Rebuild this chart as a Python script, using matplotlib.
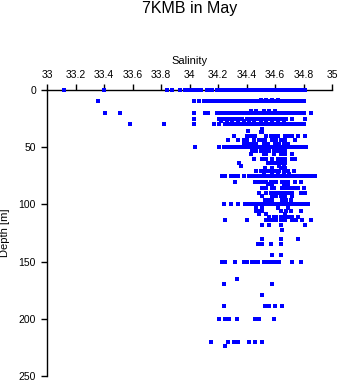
import matplotlib
matplotlib.use('Agg')
import matplotlib.pyplot as plt

plt.rcParams['font.family'] = ['Liberation Sans', 'DejaVu Sans']

# Salinity readings along the densely sampled depth levels
sal_0m = [33.12, 33.40, 33.84, 33.88, 33.93, 33.97, 33.99, 34.01, 34.03, 34.06, 34.08,
          34.12, 34.14, 34.16, 34.19, 34.21, 34.23, 34.25, 34.27, 34.29, 34.31, 34.33,
          34.35, 34.37, 34.39, 34.41, 34.43, 34.45, 34.47, 34.49, 34.51, 34.53, 34.55,
          34.57, 34.59, 34.61, 34.63, 34.65, 34.67, 34.69, 34.71, 34.73, 34.75, 34.77,
          34.79, 34.81]
sal_10m = [33.36, 34.03, 34.07, 34.10, 34.12, 34.15, 34.17, 34.19, 34.21, 34.23, 34.25,
           34.27, 34.29, 34.31, 34.33, 34.35, 34.37, 34.39, 34.41, 34.43, 34.45, 34.47,
           34.49, 34.51, 34.53, 34.55, 34.57, 34.59, 34.61, 34.63, 34.65, 34.67, 34.69,
           34.71, 34.73, 34.75, 34.77, 34.79, 34.80]
sal_20m = [33.41, 33.51, 34.03, 34.11, 34.13, 34.19, 34.21, 34.23, 34.25, 34.27, 34.29,
           34.31, 34.33, 34.35, 34.37, 34.39, 34.41, 34.43, 34.45, 34.47, 34.49, 34.51,
           34.53, 34.55, 34.57, 34.59, 34.61, 34.63, 34.65, 34.67, 34.69, 34.71, 34.73,
           34.75, 34.77, 34.79, 34.80, 34.85]
sal_25m = [34.03, 34.21, 34.23, 34.25, 34.27, 34.29, 34.32, 34.35, 34.37, 34.40, 34.42,
           34.44, 34.46, 34.48, 34.50, 34.52, 34.54, 34.56, 34.58, 34.60, 34.62, 34.64,
           34.66, 34.68, 34.72, 34.81]
sal_30m = [33.58, 33.82, 34.03, 34.17, 34.21, 34.25, 34.27, 34.29, 34.31, 34.33, 34.35,
           34.37, 34.39, 34.41, 34.43, 34.45, 34.47, 34.49, 34.51, 34.53, 34.55, 34.57,
           34.59, 34.61, 34.63, 34.65, 34.67, 34.69, 34.71, 34.73, 34.75, 34.77, 34.79,
           34.80]
sal_50m = [34.04, 34.21, 34.24, 34.26, 34.28, 34.30, 34.32, 34.34, 34.36, 34.38, 34.40,
           34.42, 34.44, 34.46, 34.48, 34.50, 34.52, 34.54, 34.56, 34.58, 34.60, 34.62,
           34.64, 34.66, 34.68, 34.70, 34.72, 34.74, 34.76, 34.78, 34.80, 34.82]
sal_75m = [34.23, 34.25, 34.29, 34.31, 34.34, 34.38, 34.42, 34.44, 34.46, 34.48, 34.50,
           34.52, 34.54, 34.56, 34.58, 34.60, 34.62, 34.64, 34.66, 34.68, 34.70, 34.72,
           34.74, 34.76, 34.78, 34.80, 34.82, 34.84, 34.86, 34.88]
sal_100m = [34.24, 34.29, 34.34, 34.39, 34.41, 34.43, 34.45, 34.47, 34.49, 34.51, 34.53,
            34.55, 34.57, 34.59, 34.61, 34.63, 34.65, 34.67, 34.69, 34.71, 34.73, 34.75,
            34.77, 34.79, 34.81, 34.83]
sal_150m = [34.23, 34.25, 34.32, 34.38, 34.40, 34.44, 34.46, 34.48, 34.52, 34.55, 34.57,
            34.59, 34.61, 34.63, 34.72, 34.78]

# Scattered readings between the main levels
scatter_depth = (
    [9] * 4 + [18] * 5 + [27] * 12 + [34, 36, 37, 37] + [40] * 13 + [44] * 13
    + [47] * 10 + [53] * 9 + [56] * 7 + [60] * 9 + [64] * 7 + [66] * 3 + [68] * 4
    + [71] * 10 + [73] * 5 + [80] * 13 + [82] * 4 + [86] * 11 + [90] * 11 + [93] * 6
    + [96] * 6 + [103] * 4 + [106] * 7 + [108] * 3 + [111] * 8 + [114] * 12 + [118] * 4
    + [122, 130, 130, 130] + [135] * 4 + [144, 144, 165, 170, 170, 179] + [189] * 5
    + [200] * 9 + [220] * 7 + [224]
)
scatter_sal = (
    [34.50, 34.54, 34.58, 34.62]
    + [34.43, 34.47, 34.52, 34.56, 34.60]
    + [34.22, 34.26, 34.30, 34.34, 34.38, 34.42, 34.45, 34.50, 34.54, 34.58, 34.62, 34.66]
    + [34.51, 34.41, 34.50, 34.51]
    + [34.31, 34.40, 34.43, 34.46, 34.54, 34.57, 34.59, 34.62, 34.67, 34.69, 34.72, 34.76, 34.81]
    + [34.27, 34.34, 34.38, 34.40, 34.45, 34.49, 34.51, 34.53, 34.58, 34.61, 34.64, 34.67, 34.74]
    + [34.38, 34.41, 34.44, 34.47, 34.52, 34.55, 34.60, 34.63, 34.66, 34.69]
    + [34.44, 34.47, 34.50, 34.53, 34.56, 34.59, 34.62, 34.65, 34.67]
    + [34.43, 34.52, 34.54, 34.59, 34.64, 34.67, 34.72]
    + [34.45, 34.51, 34.54, 34.58, 34.62, 34.65, 34.67, 34.72, 34.74]
    + [34.35, 34.55, 34.57, 34.59, 34.62, 34.65, 34.67]
    + [34.36, 34.63, 34.66]
    + [34.53, 34.58, 34.64, 34.67]
    + [34.47, 34.50, 34.53, 34.55, 34.57, 34.60, 34.63, 34.66, 34.69, 34.73]
    + [34.52, 34.58, 34.62, 34.66, 34.70]
    + [34.32, 34.46, 34.49, 34.51, 34.54, 34.57, 34.59, 34.61, 34.65, 34.67, 34.69, 34.74, 34.78]
    + [34.55, 34.58, 34.66, 34.69]
    + [34.51, 34.54, 34.58, 34.59, 34.65, 34.67, 34.69, 34.72, 34.74, 34.76, 34.80]
    + [34.49, 34.54, 34.57, 34.60, 34.62, 34.64, 34.67, 34.70, 34.72, 34.78, 34.81]
    + [34.51, 34.58, 34.61, 34.64, 34.67, 34.72]
    + [34.53, 34.56, 34.58, 34.65, 34.68, 34.71]
    + [34.47, 34.51, 34.62, 34.69]
    + [34.47, 34.49, 34.51, 34.64, 34.68, 34.71, 34.78]
    + [34.49, 34.54, 34.67]
    + [34.56, 34.59, 34.61, 34.64, 34.67, 34.69, 34.72, 34.76]
    + [34.25, 34.40, 34.54, 34.55, 34.58, 34.61, 34.64, 34.67, 34.72, 34.75, 34.79, 34.85]
    + [34.51, 34.56, 34.64, 34.81]
    + [34.65, 34.51, 34.64, 34.76]
    + [34.48, 34.51, 34.57, 34.64]
    + [34.58, 34.64, 34.33, 34.24, 34.58, 34.51]
    + [34.24, 34.53, 34.56, 34.60, 34.65]
    + [34.21, 34.25, 34.27, 34.28, 34.33, 34.46, 34.48, 34.49, 34.59]
    + [34.15, 34.27, 34.31, 34.34, 34.42, 34.46, 34.51]
    + [34.25]
)

level_depths = [0, 10, 20, 25, 30, 50, 75, 100, 150]
level_sals = [sal_0m, sal_10m, sal_20m, sal_25m, sal_30m, sal_50m, sal_75m, sal_100m, sal_150m]

salinity = []
depth = []
for d, sals in zip(level_depths, level_sals):
    salinity += sals
    depth += [d] * len(sals)
salinity += scatter_sal
depth += scatter_depth

fig = plt.figure(figsize=(3.41, 3.84), dpi=100)
ax = fig.add_axes([47 / 341, 8 / 384, 285 / 341, 286 / 384])

ax.scatter(salinity, depth, s=7, marker='s', color='#0000ff', linewidths=0,
           clip_on=False, zorder=3)

ax.set_xlim(33, 35)
ax.set_ylim(250, 0)
ax.set_xticks([33, 33.2, 33.4, 33.6, 33.8, 34, 34.2, 34.4, 34.6, 34.8, 35])
ax.set_xticklabels(['33', '33.2', '33.4', '33.6', '33.8', '34', '34.2', '34.4', '34.6', '34.8', '35'])
ax.set_yticks([0, 50, 100, 150, 200, 250])

ax.xaxis.tick_top()
ax.xaxis.set_label_position('top')
ax.tick_params(axis='x', direction='out', length=4, width=1, pad=3, labelsize=7.5)
ax.tick_params(axis='y', direction='out', length=4, width=1, pad=4, labelsize=7.5)

ax.spines['right'].set_visible(False)
ax.spines['bottom'].set_visible(False)
ax.spines['top'].set_linewidth(1)
ax.spines['left'].set_linewidth(1)

ax.set_xlabel('Salinity', fontsize=8)
ax.xaxis.set_label_coords(0.5, 1 + 29 / 286)
ax.xaxis.label.set_va('center')
ax.set_ylabel('Depth [m]', fontsize=8)
ax.yaxis.set_label_coords(-42 / 285, 0.5)
ax.yaxis.label.set_va('center')

fig.text(189.5 / 341, 1 - 9 / 384, '7KMB in May', ha='center', va='center', fontsize=11.5)

fig.savefig('out.png', dpi=100)
